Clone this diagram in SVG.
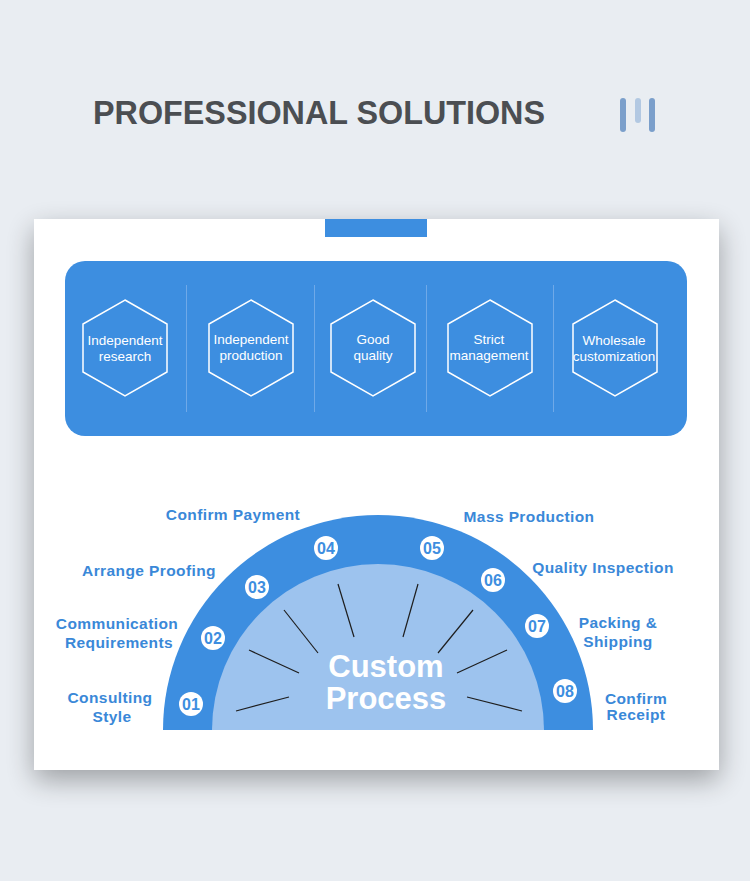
<svg xmlns="http://www.w3.org/2000/svg" width="750" height="881" viewBox="0 0 750 881">
  <defs>
    <filter id="shadow" x="-20%" y="-20%" width="140%" height="140%">
      <feGaussianBlur in="SourceAlpha" stdDeviation="14"/>
      <feOffset dx="0" dy="10" result="b"/>
      <feComponentTransfer><feFuncA type="linear" slope="0.33"/></feComponentTransfer>
      <feMerge><feMergeNode/><feMergeNode in="SourceGraphic"/></feMerge>
    </filter>
  </defs>
  <style>
    .title{font-family:"Liberation Sans",Arial,sans-serif;font-weight:bold;font-size:33px;fill:#4b4e52}
    .hex{fill:none;stroke:#ffffff;stroke-width:1.5}
    .htxt{font-family:"Liberation Sans",Arial,sans-serif;font-size:13.5px;fill:#ffffff;text-anchor:middle}
    .div{stroke:#6fa9e8;stroke-width:1}
    .lbl{font-family:"Liberation Sans",Arial,sans-serif;font-weight:bold;font-size:15.5px;letter-spacing:0.4px;fill:#3a88d8;text-anchor:middle}
    .num{font-family:"Liberation Sans",Arial,sans-serif;font-weight:bold;font-size:16px;fill:#3d8ee0;text-anchor:middle}
    .ncirc{fill:#ffffff}
    .ray{stroke:#1e1e1e;stroke-width:1.2;fill:none}
    .big{font-family:"Liberation Sans",Arial,sans-serif;font-weight:bold;font-size:31px;fill:#ffffff;text-anchor:middle}
  </style>
  <rect x="0" y="0" width="750" height="881" fill="#e9edf2"/>

  <g id="header">
    <text class="title" x="93" y="124" textLength="452" lengthAdjust="spacingAndGlyphs">PROFESSIONAL SOLUTIONS</text>
    <rect x="620" y="98" width="6" height="34" rx="3" fill="#7b9fcb"/>
    <rect x="635" y="98" width="6" height="25" rx="3" fill="#b2c8e2"/>
    <rect x="649" y="98" width="6" height="34" rx="3" fill="#7b9fcb"/>
  </g>

  <g id="card">
    <rect x="34" y="219" width="685" height="551" fill="#ffffff" filter="url(#shadow)"/>
    <rect x="325" y="219" width="102" height="18" fill="#3d8ee0"/>
  </g>

  <g id="features">
    <rect x="65" y="261" width="622" height="175" rx="20" fill="#3d8ee0"/>
    <line class="div" x1="186.5" y1="285" x2="186.5" y2="412"/>
    <line class="div" x1="314.5" y1="285" x2="314.5" y2="412"/>
    <line class="div" x1="426.5" y1="285" x2="426.5" y2="412"/>
    <line class="div" x1="553.5" y1="285" x2="553.5" y2="412"/>
  </g>

  <g id="hex1">
    <polygon class="hex" points="125,300 167,324 167,372 125,396 83,372 83,324"/>
    <text class="htxt" x="125" y="345">Independent</text>
    <text class="htxt" x="125" y="361">research</text>
  </g>
  <g id="hex2">
    <polygon class="hex" points="251,300 293,324 293,372 251,396 209,372 209,324"/>
    <text class="htxt" x="251" y="344">Independent</text>
    <text class="htxt" x="251" y="360">production</text>
  </g>
  <g id="hex3">
    <polygon class="hex" points="373,300 415,324 415,372 373,396 331,372 331,324"/>
    <text class="htxt" x="373" y="344">Good</text>
    <text class="htxt" x="373" y="360">quality</text>
  </g>
  <g id="hex4">
    <polygon class="hex" points="490,300 532,324 532,372 490,396 448,372 448,324"/>
    <text class="htxt" x="489" y="344">Strict</text>
    <text class="htxt" x="489" y="360">management</text>
  </g>
  <g id="hex5">
    <polygon class="hex" points="615,300 657,324 657,372 615,396 573,372 573,324"/>
    <text class="htxt" x="614" y="345">Wholesale</text>
    <text class="htxt" x="614" y="361">customization</text>
  </g>

  <g id="process">
    <path d="M163,730 A215,215 0 0 1 593,730 Z" fill="#3d8ee0"/>
    <path d="M212,730 A166,166 0 0 1 544,730 Z" fill="#9dc3ee"/>
    <text class="big" x="386" y="677">Custom</text>
    <text class="big" x="386" y="709">Process</text>
  </g>

  <g id="connectors">
    <line class="ray" x1="236" y1="711" x2="289" y2="697"/>
    <line class="ray" x1="249" y1="650" x2="299" y2="673"/>
    <line class="ray" x1="284" y1="610" x2="318" y2="653"/>
    <line class="ray" x1="338" y1="584" x2="354" y2="637"/>
    <line class="ray" x1="418" y1="584" x2="403" y2="637"/>
    <line class="ray" x1="473" y1="610" x2="438" y2="653"/>
    <line class="ray" x1="507" y1="650" x2="457" y2="673"/>
    <line class="ray" x1="522" y1="711" x2="467" y2="697"/>
  </g>

  <g id="step01">
    <circle class="ncirc" cx="191" cy="704" r="12"/>
    <text class="num" x="191" y="710">01</text>
    <text class="lbl" x="110" y="703">Consulting</text>
    <text class="lbl" x="112" y="722">Style</text>
  </g>
  <g id="step02">
    <circle class="ncirc" cx="213" cy="638" r="12"/>
    <text class="num" x="213" y="644">02</text>
    <text class="lbl" x="117" y="629">Communication</text>
    <text class="lbl" x="119" y="648">Requirements</text>
  </g>
  <g id="step03">
    <circle class="ncirc" cx="257" cy="587" r="12"/>
    <text class="num" x="257" y="593">03</text>
    <text class="lbl" x="149" y="576">Arrange Proofing</text>
  </g>
  <g id="step04">
    <circle class="ncirc" cx="326" cy="548" r="12"/>
    <text class="num" x="326" y="554">04</text>
    <text class="lbl" x="233" y="520">Confirm Payment</text>
  </g>
  <g id="step05">
    <circle class="ncirc" cx="432" cy="548" r="12"/>
    <text class="num" x="432" y="554">05</text>
    <text class="lbl" x="529" y="522">Mass Production</text>
  </g>
  <g id="step06">
    <circle class="ncirc" cx="493" cy="580" r="12"/>
    <text class="num" x="493" y="586">06</text>
    <text class="lbl" x="603" y="573">Quality Inspection</text>
  </g>
  <g id="step07">
    <circle class="ncirc" cx="537" cy="626" r="12"/>
    <text class="num" x="537" y="632">07</text>
    <text class="lbl" x="618" y="628">Packing &amp;</text>
    <text class="lbl" x="618" y="647">Shipping</text>
  </g>
  <g id="step08">
    <circle class="ncirc" cx="565" cy="691" r="12"/>
    <text class="num" x="565" y="697">08</text>
    <text class="lbl" x="636" y="704">Confirm</text>
    <text class="lbl" x="636" y="720">Receipt</text>
  </g>
</svg>
